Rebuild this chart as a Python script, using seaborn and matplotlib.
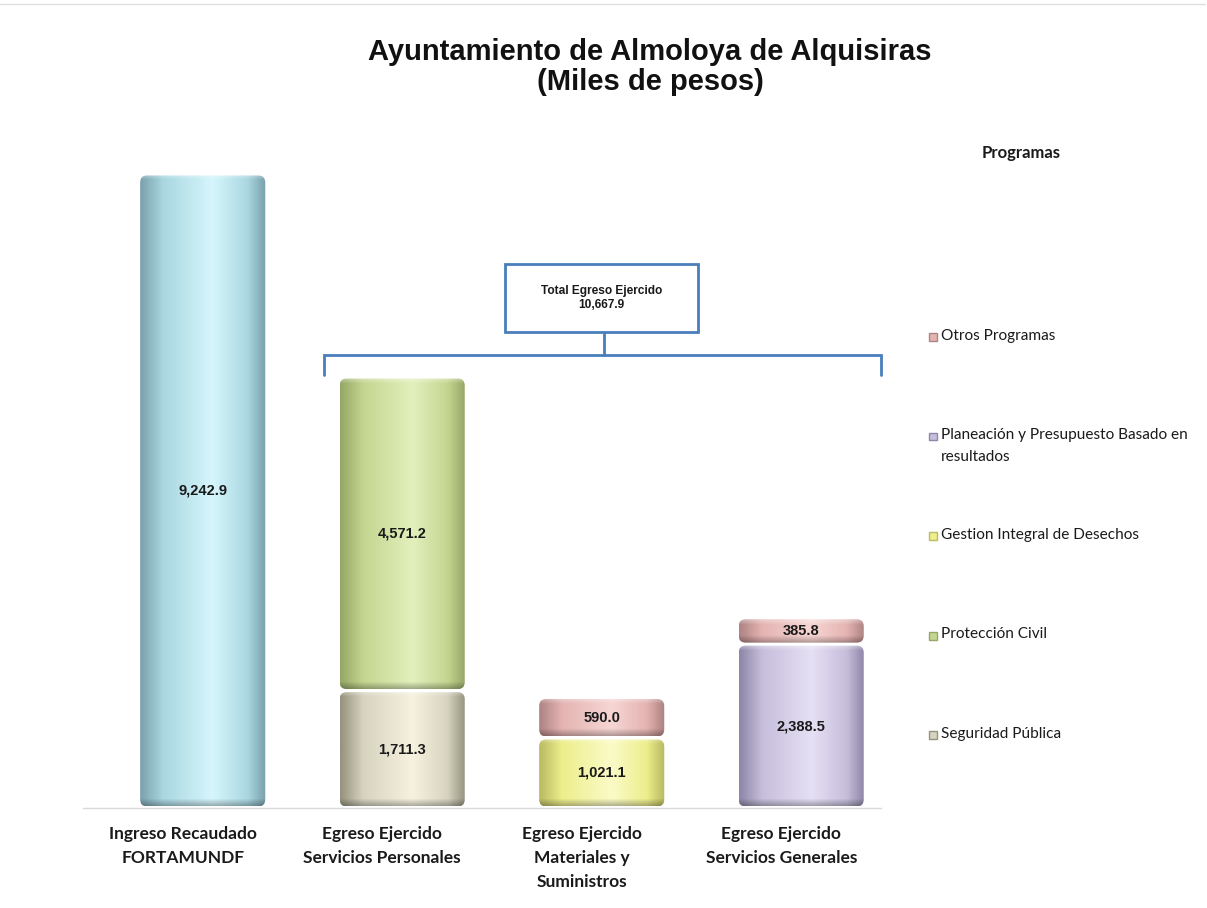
import numpy as np
import pandas as pd
import matplotlib
matplotlib.use("Agg")
import matplotlib.pyplot as plt
import seaborn as sns
from matplotlib.colors import LinearSegmentedColormap, to_rgb
from matplotlib.patches import FancyBboxPatch, Rectangle
from matplotlib.lines import Line2D


# ===============================
# DATA
# ===============================
categories = [
    "Ingreso Recaudado\nFORTAMUNDF",
    "Egreso Ejercido\nServicios Personales",
    "Egreso Ejercido\nMateriales y\nSuministros",
    "Egreso Ejercido\nServicios Generales",
]
ingreso = [9242.9, 0, 0, 0]
seguridad = [0, 1711.3, 0, 0]
proteccion = [0, 4571.2, 0, 0]
gestion = [0, 0, 1021.1, 0]
planeacion = [0, 0, 0, 2388.5]
otros = [0, 0, 590.0, 385.8]

# stacked bottom -> top
stack_names = ["Ingreso", "Seguridad Pública", "Protección Civil",
               "Gestion Integral de Desechos",
               "Planeación y Presupuesto Basado en\nresultados",
               "Otros Programas"]
stack_values = [ingreso, seguridad, proteccion, gestion, planeacion, otros]

# legend order (top -> bottom), as shown in the chart
legend_names = ["Otros Programas",
                "Planeación y Presupuesto Basado en\nresultados",
                "Gestion Integral de Desechos",
                "Protección Civil",
                "Seguridad Pública"]

# (edge, base, highlight)
COLORS = {
    "Ingreso": ("#7BA2AD", "#AAD7E1", "#D6F6FC"),
    "Seguridad Pública": ("#96937F", "#D6D3BF", "#F6F2DF"),
    "Protección Civil": ("#96A866", "#C3D690", "#E3F0BD"),
    "Gestion Integral de Desechos": ("#BBBB62", "#EDEE8C", "#FBFBC8"),
    "Planeación y Presupuesto Basado en\nresultados": ("#8F87A8", "#C6BEDB", "#E6E0F4"),
    "Otros Programas": ("#B08484", "#E4B4B2", "#F6D6D4"),
}
LINE_BLUE = "#4A7EBB"

FONT_ARIAL = ["Liberation Sans", "DejaVu Sans"]
FONT_CALIBRI = ["Lato", "DejaVu Sans"]


# ===============================
# HELPERS
# ===============================
def cylinder_image(cols, n_rows):
    edge, base, hi = [np.array(to_rgb(c)) for c in cols]
    cmap = LinearSegmentedColormap.from_list(
        "cyl", [(0.0, edge), (0.18, base), (0.58, hi), (0.86, base), (1.0, edge)])
    row = cmap(np.linspace(0, 1, 80))[:, :3]
    img = np.tile(row, (n_rows, 1, 1))
    # dark rim at the bottom, light rim at the top
    ys = np.arange(n_rows)
    bottom = np.clip(1 - ys / 7.0, 0, 1)
    top = np.clip(1 - (n_rows - 1 - ys) / 5.0, 0, 1)
    img = img * (1 - 0.28 * bottom[:, None, None])
    img = img + (1 - img) * (0.35 * top[:, None, None])
    return np.clip(img, 0, 1)


def draw_cylinder(ax, x0, w, y0, h, cols, px_y, aspect):
    gap = 1.5 * px_y
    y0, h = y0 + gap, h - 2 * gap
    clip = FancyBboxPatch((x0, y0), w, h,
                          boxstyle="round,pad=0,rounding_size=0.035",
                          mutation_aspect=aspect, fc="none", ec="none",
                          transform=ax.transData)
    ax.add_patch(clip)
    n_rows = max(int(h / px_y), 4)
    im = ax.imshow(cylinder_image(cols, n_rows), extent=(x0, x0 + w, y0, y0 + h),
                   origin="lower", aspect="auto", interpolation="bilinear", zorder=2)
    im.set_clip_path(clip)


# ===============================
# FIGURE
# ===============================
sns.set_style("white")
fig = plt.figure(figsize=(12.07, 9.08), dpi=100)
fig.patch.set_facecolor("white")
ax = fig.add_axes([83 / 1207, 100 / 908, 798 / 1207, 698 / 908])

XLIM = (-0.6, 3.4)
YLIM = (0, 698 / 0.0686)

# cumulative stacking, drawn with seaborn top layer first
cum = np.zeros(len(categories))
layers = []
for name, vals in zip(stack_names, stack_values):
    vals = np.array(vals, dtype=float)
    layers.append((name, cum.copy(), vals))
    cum = cum + vals

bar_geom = []
for name, bottom, vals in reversed(layers):
    n_before = len(ax.patches)
    df = pd.DataFrame({"cat": categories, "top": bottom + vals})
    sns.barplot(data=df, x="cat", y="top", order=categories, ax=ax,
                width=0.627, color=COLORS[name][1], errorbar=None)
    for i, p in enumerate(ax.patches[n_before:]):
        if vals[i] > 0:
            bar_geom.append((name, p.get_x(), p.get_width(), bottom[i], vals[i]))
        p.set_visible(False)

ax.set_xlim(*XLIM)
ax.set_ylim(*YLIM)

ax_w = 798.0
ax_h = 698.0
px_y = (YLIM[1] - YLIM[0]) / ax_h
px_x = (XLIM[1] - XLIM[0]) / ax_w
aspect = px_y / px_x

for name, x0, w, y0, h in bar_geom:
    draw_cylinder(ax, x0, w, y0, h, COLORS[name], px_y, aspect)
    ax.text(x0 + w / 2, y0 + h / 2, f"{h:,.1f}", ha="center", va="center",
            fontsize=10.5, fontweight="bold", family=FONT_ARIAL, color="#1A1A1A", zorder=5)

ax.set_xlim(*XLIM)
ax.set_ylim(*YLIM)

# bracket for total egreso
egreso_tops = cum[1:]
total_egreso = sum(sum(v) for v in stack_values[1:])
br_y = egreso_tops.max() + 320
br_drop = 290
xl, xr, xm = 1 - 0.39, 3 + 0.40, 2.01
ax.plot([xl, xl, xr, xr], [br_y - br_drop, br_y, br_y, br_y - br_drop],
        color=LINE_BLUE, lw=2, solid_joinstyle="miter", zorder=3, clip_on=False)
ax.plot([xm, xm], [br_y, br_y + 24 * px_y], color=LINE_BLUE, lw=2, zorder=3)
box_y0 = br_y + 23 * px_y
ax.add_patch(Rectangle((1.514, box_y0), 2.481 - 1.514, 68 * px_y,
                       fc="white", ec=LINE_BLUE, lw=2, zorder=4))
ax.text((1.514 + 2.481) / 2, box_y0 + 34 * px_y,
        f"Total Egreso Ejercido\n{total_egreso:,.1f}", ha="center", va="center",
        fontsize=8.6, fontweight="bold", family=FONT_ARIAL, color="#1A1A1A",
        linespacing=1.3, zorder=5)

# axes styling
sns.despine(ax=ax, left=True, top=True, right=True)
ax.spines["bottom"].set_color("#D9D9D9")
ax.spines["bottom"].set_linewidth(1)
ax.set_yticks([])
ax.set_ylabel("")
ax.set_xlabel("")
ax.set_xticks(np.arange(len(categories)) - 0.1)
ax.set_xticklabels(categories, fontsize=12.5, fontweight="bold",
                   family=FONT_CALIBRI, color="#1A1A1A", linespacing=1.6)
ax.tick_params(axis="x", which="major", length=0, pad=13)
ax.set_xticks(np.arange(len(categories) + 1) - 0.6, minor=True)
ax.tick_params(axis="x", which="minor", length=5, color="#D9D9D9", width=1)

# title
fig.text(650 / 1207, 1 - 67 / 908, "Ayuntamiento de Almoloya de Alquisiras\n(Miles de pesos)",
         ha="center", va="center", fontsize=21, fontweight="bold",
         family=FONT_ARIAL, color="#111111", linespacing=1.05)

# legend (manual, spaced like the original)
fig.text(1021 / 1207, 1 - 153 / 908, "Programas", ha="center", va="center",
         fontsize=12, fontweight="bold", family=FONT_CALIBRI, color="#1A1A1A")
for k, name in enumerate(legend_names):
    y_px = 337 + k * 99.5
    edge, base, hi = COLORS[name]
    fig.patches.append(Rectangle((929 / 1207, 1 - (y_px + 4) / 908), 8 / 1207, 8 / 908,
                                 transform=fig.transFigure, fc=base, ec=edge, lw=1))
    fig.text(941 / 1207, 1 - (y_px - 8) / 908, name, ha="left", va="top",
             fontsize=11.1, family=FONT_CALIBRI, color="#1A1A1A", linespacing=1.7)

# faint top frame line
fig.lines.append(Line2D([0, 1205 / 1207], [1 - 4 / 908, 1 - 4 / 908],
                        transform=fig.transFigure, color="#E0E0E0", lw=1))

fig.savefig("out.png", dpi=100)
